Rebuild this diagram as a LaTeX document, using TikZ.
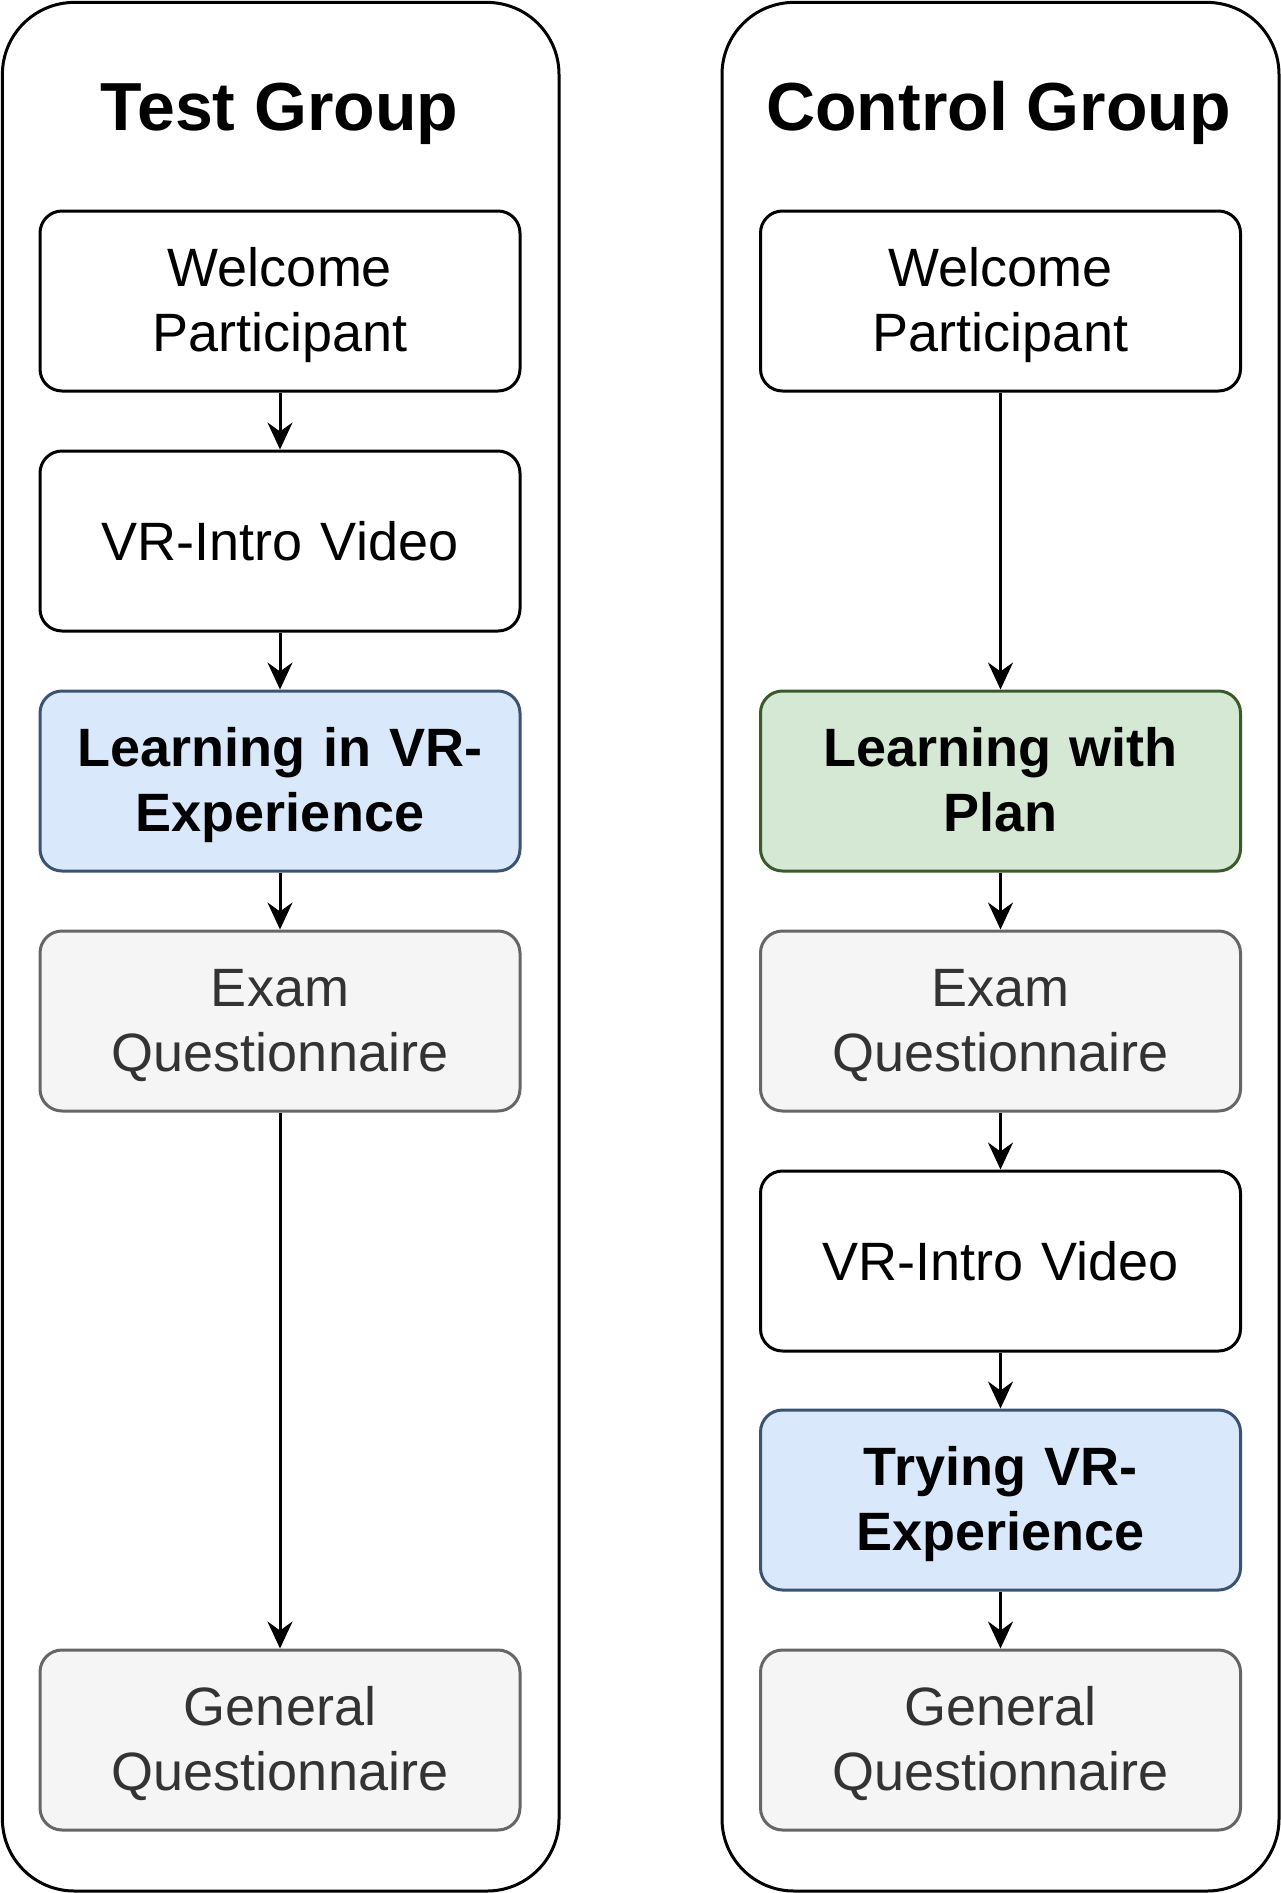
\documentclass[tikz,border=0pt]{standalone}
\usepackage{fontspec}
\setmainfont{Liberation Sans}
\usetikzlibrary{arrows.meta}
\definecolor{bluefill}{HTML}{DAE8FC}
\definecolor{bluestroke}{HTML}{3A5372}
\definecolor{greenfill}{HTML}{D5E8D4}
\definecolor{greenstroke}{HTML}{3B5A2A}
\definecolor{greyfill}{HTML}{F5F5F5}
\definecolor{greystroke}{HTML}{666666}
\definecolor{greytext}{HTML}{333333}
\tikzset{
  container/.style={draw=black, line width=3pt, rounded corners=72pt, fill=white, inner sep=0pt},
  grouptitle/.style={anchor=base, font=\fontsize{68}{80}\selectfont\bfseries, inner sep=0pt},
  stepbox/.style={draw=black, fill=white, line width=3pt, rounded corners=22pt,
    minimum width=480pt, minimum height=180pt, inner sep=0pt, text width=470pt, align=center,
    font=\fontsize{54}{65}\selectfont},
  twoline/.style={execute at begin node={\rule{0pt}{47pt}}, execute at end node={\rule[-11pt]{0pt}{11pt}}},
  bluebox/.style={stepbox, twoline, fill=bluefill, draw=bluestroke, font=\fontsize{54}{65}\selectfont\bfseries},
  greenbox/.style={stepbox, twoline, fill=greenfill, draw=greenstroke, font=\fontsize{54}{65}\selectfont\bfseries},
  greybox/.style={stepbox, twoline, fill=greyfill, draw=greystroke, text=greytext},
  flow/.style={line width=3pt, -{Stealth[length=27pt, width=25pt, inset=9pt]}}
}
\begin{document}
\begin{tikzpicture}[x=1pt,y=-1pt]
\useasboundingbox (0,0) rectangle (1281,1893);
% containers
\node[container, minimum width=556.6pt, minimum height=1888.6pt] (testgrp) at (280.7,946.7) {};
\node[container, minimum width=557pt, minimum height=1888.6pt] (ctrlgrp) at (1000.5,946.7) {};
\node[grouptitle] (testtitle) at (279.5,130) {Test Group};
\node[grouptitle] (ctrltitle) at (998.5,130) {Control Group};
% test group
\node[stepbox, twoline] (t1) at (280,301) {Welcome\\Participant};
\node[stepbox] (t2) at (280,541) {VR-Intro Video};
\node[bluebox] (t3) at (280,781) {Learning in VR-\\Experience};
\node[greybox] (t4) at (280,1021) {Exam\\Questionnaire};
\node[greybox] (t5) at (280,1740) {General\\Questionnaire};
% control group
\node[stepbox, twoline] (c1) at (1000.5,301) {Welcome\\Participant};
\node[greenbox] (c2) at (1000.5,781) {Learning with\\Plan};
\node[greybox] (c3) at (1000.5,1021) {Exam\\Questionnaire};
\node[stepbox] (c4) at (1000.5,1261) {VR-Intro Video};
\node[bluebox] (c5) at (1000.5,1500) {Trying VR-\\Experience};
\node[greybox] (c6) at (1000.5,1740) {General\\Questionnaire};
% connectors
\draw[flow] (t1.south) -- (t2.north);
\draw[flow] (t2.south) -- (t3.north);
\draw[flow] (t3.south) -- (t4.north);
\draw[flow] (t4.south) -- (t5.north);
\draw[flow] (c1.south) -- (c2.north);
\draw[flow] (c2.south) -- (c3.north);
\draw[flow] (c3.south) -- (c4.north);
\draw[flow] (c4.south) -- (c5.north);
\draw[flow] (c5.south) -- (c6.north);
\end{tikzpicture}
\end{document}
